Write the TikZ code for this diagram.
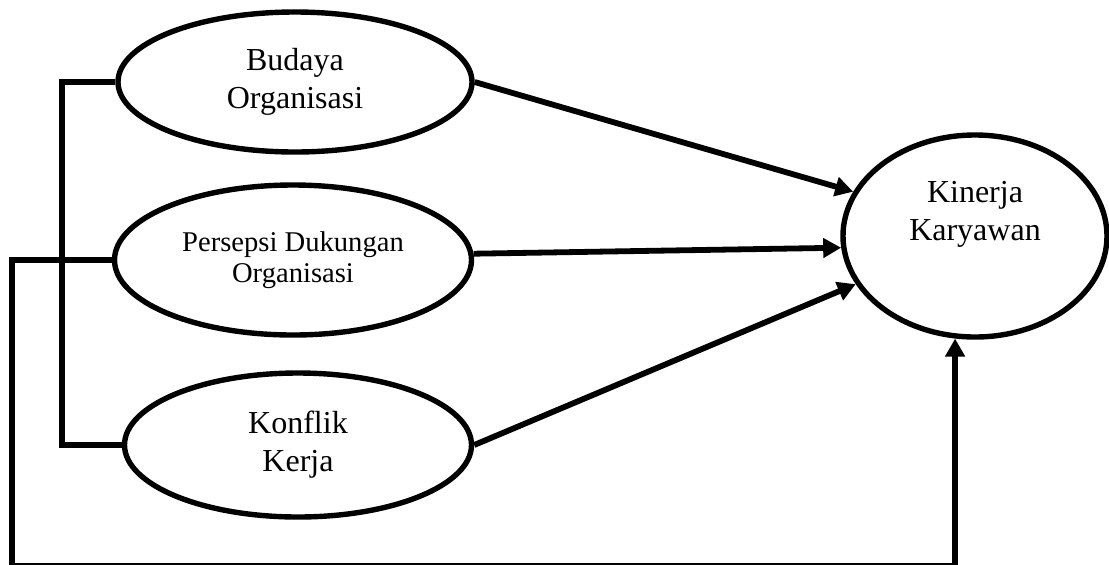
\documentclass[tikz,border=0pt]{standalone}
\usepackage{fontspec}
\setmainfont{Liberation Serif}
\usetikzlibrary{shapes.geometric,arrows.meta}

\begin{document}
\begin{tikzpicture}[x=0.5pt,y=-0.5pt,
    var/.style={ellipse,draw,line width=2.7pt,inner sep=0pt,align=center,font=\fontsize{16}{19}\selectfont},
    link/.style={line width=2.9pt},
    arr/.style={link,-{Triangle[length=9pt,width=9.5pt]}}]
    \useasboundingbox (0,0) rectangle (1109,564);

    % the variables
    \node[var,minimum width=177pt,minimum height=70pt] (budaya) at (295,82) {Budaya\\Organisasi};
    \node[var,minimum width=178.5pt,minimum height=75pt,font=\fontsize{14.3}{15.5}\selectfont] (persepsi) at (293,260) {Persepsi Dukungan\\Organisasi};
    \node[var,minimum width=173.5pt,minimum height=72pt] (konflik) at (298,445) {Konflik\\Kerja};
    \node[var,minimum width=132pt,minimum height=101pt] (kinerja) at (975,236) {};
    \node[align=center,font=\fontsize{16}{19}\selectfont] (kinerjateks) at (975,214) {Kinerja\\Karyawan};

    \coordinate (sudut) at (12,566);

    \draw[link] (budaya.west) -- ++(-53,0) |- (konflik.west);
    \draw[arr] (persepsi.west) -| (sudut) -| (kinerja.259);

    \draw[arr] (budaya.east) -- (kinerja.160);
    \draw[arr] (persepsi.2) -- (kinerja.185);
    \draw[arr] (konflik.east) -- (kinerja.202);
\end{tikzpicture}
\end{document}
